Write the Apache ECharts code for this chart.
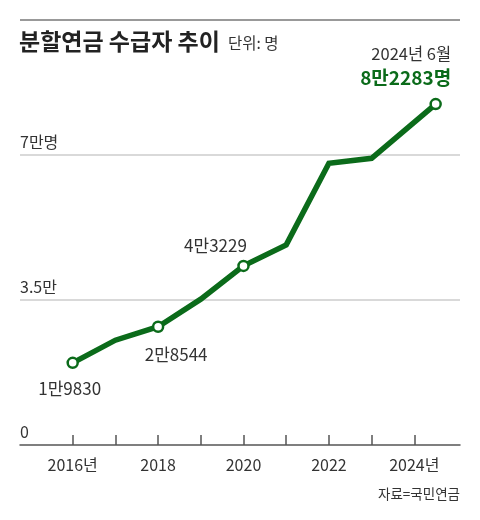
<!DOCTYPE html>
<html>
<head>
<meta charset="utf-8">
<script src="https://cdn.jsdelivr.net/npm/echarts@6/dist/echarts.min.js"></script>
<style>
  html, body { margin: 0; padding: 0; background: #fff; }
  #main { width: 480px; height: 520px; }
</style>
</head>
<body>
<div id="main"></div>
<script>
// 분할연금 수급자 추이 (단위: 명)
var years = [2016, 2017, 2018, 2019, 2020, 2021, 2022, 2023, 2024.5];
var values = [19830, 25300, 28544, 35200, 43229, 48300, 68000, 69200, 82283];
var marked = [true, false, true, false, true, false, false, false, true];
var pointLabels = ['1만9830', '', '2만8544', '', '4만3229', '', '', '', '8만2283명'];
var yTicks = [0, 35000, 70000];
var yTickLabels = ['0', '3.5만', '7만명'];
var xTicks = [2016, 2017, 2018, 2019, 2020, 2021, 2022, 2023, 2024];
var xLabelYears = [2016, 2018, 2020, 2022, 2024];

var GREEN = '#0b6b1a';
var FONT = '"Liberation Sans Narrow", "Noto Sans CJK KR", sans-serif';

var chart = echarts.init(document.getElementById('main'));

// 라벨 위치 (점 기준 오프셋)
var labelOffsets = {
  0: { position: 'bottom', offset: [-3, 6] },
  2: { position: 'bottom', offset: [18, 8] },
  4: { position: 'top', offset: [-28, -1] }
};

var seriesData = [];
for (var i = 0; i < years.length; i++) {
  var item = {
    value: [years[i], values[i]],
    symbol: marked[i] ? 'circle' : 'none'
  };
  if (labelOffsets[i]) {
    item.label = {
      show: true,
      position: labelOffsets[i].position,
      offset: labelOffsets[i].offset,
      formatter: pointLabels[i],
      color: '#333',
      fontSize: 17,
      fontFamily: FONT
    };
  }
  if (i === years.length - 1) {
    item.label = {
      show: true,
      position: 'top',
      offset: [-30, -3],
      align: 'center',
      formatter: '{a|2024년 6월}\n{b|' + pointLabels[i] + '}',
      rich: {
        a: { fontSize: 16.5, color: '#333', fontFamily: FONT, align: 'right', lineHeight: 24 },
        b: { fontSize: 19, color: GREEN, fontWeight: 'bold', fontFamily: FONT, align: 'right', lineHeight: 24 }
      }
    };
  }
  seriesData.push(item);
}

var option = {
  backgroundColor: '#fff',
  animation: false,
  textStyle: { fontFamily: FONT },
  grid: { left: 20, right: 20, top: 72.14, bottom: 75 },
  graphic: [
    { type: 'line', shape: { x1: 20, y1: 20, x2: 460, y2: 20 }, style: { stroke: '#999', lineWidth: 2 } },
    { type: 'text', left: 19, top: 30, style: { text: '분할연금 수급자 추이', fontSize: 23, fontWeight: 'bold', fill: '#222', fontFamily: '"Noto Sans CJK KR", sans-serif' } },
    { type: 'text', left: 228, top: 35, style: { text: '단위: 명', fontSize: 15.5, fill: '#333', fontFamily: FONT } },
    { type: 'text', right: 20, top: 487, style: { text: '자료=국민연금', fontSize: 13.5, fill: '#333', fontFamily: '"Noto Sans CJK KR", sans-serif' } }
  ],
  xAxis: {
    type: 'value',
    min: 2014.766,
    max: 2025.07,
    splitLine: { show: false },
    axisLine: { show: true, lineStyle: { color: '#555', width: 1.5 } },
    axisTick: { show: true, inside: true, length: 10, customValues: xTicks, lineStyle: { color: '#555', width: 1.5 } },
    axisLabel: {
      customValues: xLabelYears,
      margin: 12,
      fontSize: 16,
      color: '#333',
      fontFamily: FONT,
      formatter: function (v) {
        return (v === 2016 || v === 2024) ? v + '년' : String(v);
      }
    }
  },
  yAxis: {
    type: 'value',
    min: 0,
    max: 90000,
    interval: 35000,
    axisLine: { show: false },
    axisTick: { show: false },
    splitLine: { show: true, showMinLine: false, showMaxLine: false, lineStyle: { color: '#ccc', width: 1.5 } },
    axisLabel: {
      inside: true,
      customValues: yTicks,
      margin: 0,
      align: 'left',
      verticalAlign: 'bottom',
      padding: [0, 0, 5, 0],
      fontSize: 16,
      color: '#333',
      fontFamily: FONT,
      formatter: function (v) {
        return yTickLabels[yTicks.indexOf(v)];
      }
    }
  },
  series: [{
    type: 'line',
    data: seriesData,
    symbolSize: 10,
    itemStyle: { color: '#fff', borderColor: GREEN, borderWidth: 2.5 },
    lineStyle: { color: GREEN, width: 5.5, join: 'miter' },
    z: 5
  }]
};

chart.setOption(option);
</script>
</body>
</html>
